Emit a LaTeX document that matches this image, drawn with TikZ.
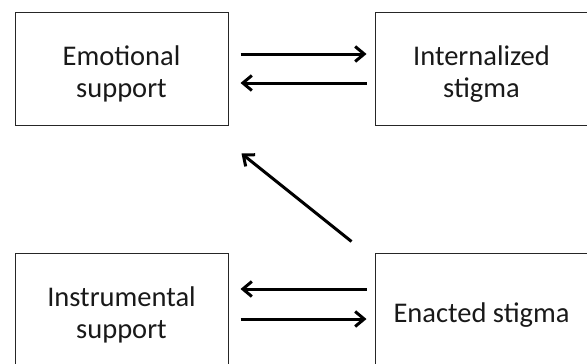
\documentclass[tikz,border=0pt]{standalone}
\usepackage{fontspec}
\setmainfont{Carlito}
\usetikzlibrary{arrows.meta}
\newcommand\mytopstrut{\rule{0pt}{30pt}}
\begin{document}
\begin{tikzpicture}[x=1pt,y=-1pt,
  box/.style={draw=black!85,line width=1pt,minimum width=213pt,minimum height=113pt,
    align=center,inner sep=0pt,text=black!90,font=\fontsize{28.5}{32}\selectfont},
  arr/.style={line width=3pt,-{Straight Barb[length=9pt,width=15pt,line width=3pt]}}]
\useasboundingbox (0,0) rectangle (587,364);
\node[box] (em) at (121.5,68.5) {\mytopstrut Emotional\\support};
\node[box] (is) at (481.5,68.5) {\mytopstrut Internalized\\stigma};
\node[box] (ins) at (121.5,309.5) {\mytopstrut Instrumental\\support};
\node[box] (es) at (481.5,309.5) {\mytopstrut Enacted stigma};
\draw[arr,shorten <=12pt,shorten >=8pt] ([yshift=14.5pt]em.east) -- ([yshift=14.5pt]is.west);
\draw[arr,shorten <=8pt,shorten >=12pt] ([yshift=-14.5pt]is.west) -- ([yshift=-14.5pt]em.east);
\draw[arr,shorten <=8pt,shorten >=12pt] ([yshift=20.5pt]es.west) -- ([yshift=20.5pt]ins.east);
\draw[arr,shorten <=12pt,shorten >=8pt] ([yshift=-9.5pt]ins.east) -- ([yshift=-9.5pt]es.west);
\draw[arr] ([shift={(-23pt,11pt)}]es.north west) -- ([shift={(13pt,-28pt)}]em.south east);
\end{tikzpicture}
\end{document}
